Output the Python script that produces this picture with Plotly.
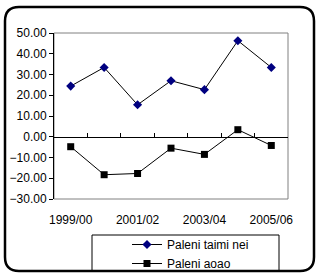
import plotly.graph_objects as go

categories = ["1999/00", "2000/01", "2001/02", "2002/03", "2003/04", "2004/05", "2005/06"]
shown_ticks = ["1999/00", "2001/02", "2003/04", "2005/06"]
taimi_nei = [24.4, 33.4, 15.4, 27.0, 22.7, 46.3, 33.4]
aoao = [-4.8, -18.3, -17.7, -5.5, -8.5, 3.4, -4.2]
names = ["Paleni taimi nei", "Paleni aoao"]

W, H = 317, 273
L, R, T, B = 54, 288, 33, 199
pw, ph = R - L, B - T

def px(x):
    return (x - L) / pw

def py(y):
    return (B - y) / ph

xs = list(range(len(categories)))
fig = go.Figure()
fig.add_trace(go.Scatter(x=xs, y=taimi_nei, name=names[0], mode="lines+markers",
                         line=dict(color="black", width=1),
                         marker=dict(symbol="diamond", size=7, color="#000080")))
fig.add_trace(go.Scatter(x=xs, y=aoao, name=names[1], mode="lines+markers",
                         line=dict(color="black", width=1),
                         marker=dict(symbol="square", size=7, color="black")))
# carrier for the category-boundary axis drawn along zero
fig.add_trace(go.Scatter(x=xs, y=aoao, xaxis="x2", mode="none", showlegend=False,
                         hoverinfo="skip"))

tickpos = [categories.index(c) for c in shown_ticks]

# rounded outer frame
x0, y0, x1, y1, r = px(5), py(7), px(314), py(271), 14
rx, ry = r / pw, r / ph
path = (f"M {x0+rx} {y0} L {x1-rx} {y0} Q {x1} {y0} {x1} {y0-ry} "
        f"L {x1} {y1+ry} Q {x1} {y1} {x1-rx} {y1} L {x0+rx} {y1} Q {x0} {y1} {x0} {y1+ry} "
        f"L {x0} {y0-ry} Q {x0} {y0} {x0+rx} {y0} Z")

fig.update_layout(
    width=W, height=H,
    margin=dict(l=L, r=W - R, t=T, b=H - B, autoexpand=False),
    paper_bgcolor="white", plot_bgcolor="white",
    font=dict(family="Liberation Sans, Arial", size=12, color="black"),
    showlegend=True,
    legend=dict(x=px(127), y=py(230), xanchor="left", yanchor="top",
                bgcolor="rgba(0,0,0,0)", borderwidth=0,
                font=dict(size=12), tracegroupgap=0),
    xaxis=dict(range=[-0.5, 6.5], tickvals=tickpos, ticktext=shown_ticks,
               ticks="outside", ticklen=10, tickcolor="rgba(0,0,0,0)",
               showline=False, showgrid=False, zeroline=False),
    xaxis2=dict(range=[-0.5, 6.5], overlaying="x", anchor="free", position=30 / 80,
                tickvals=[i + 0.5 for i in range(len(categories) - 1)],
                ticks="inside", ticklen=4, tickcolor="black",
                showticklabels=False, showline=True, linecolor="black", linewidth=1,
                showgrid=False, zeroline=False),
    yaxis=dict(range=[-30, 50], dtick=10, tickformat=".2f", ticks="outside", ticklen=4,
               tickcolor="black", showline=True, linecolor="black", linewidth=1,
               showgrid=False, zeroline=False),
    shapes=[
        dict(type="rect", xref="paper", yref="paper", x0=0, y0=0, x1=1, y1=1,
             line=dict(color="#808080", width=1), layer="below"),
        dict(type="rect", xref="paper", yref="paper", x0=px(92), y0=py(235), x1=px(279), y1=py(271),
             line=dict(color="black", width=1)),
        dict(type="path", xref="paper", yref="paper", path=path,
             line=dict(color="black", width=2.5)),
    ],
)

fig.write_html("out.html", config={"displayModeBar": False},
               post_script="document.body.style.margin='0';")
